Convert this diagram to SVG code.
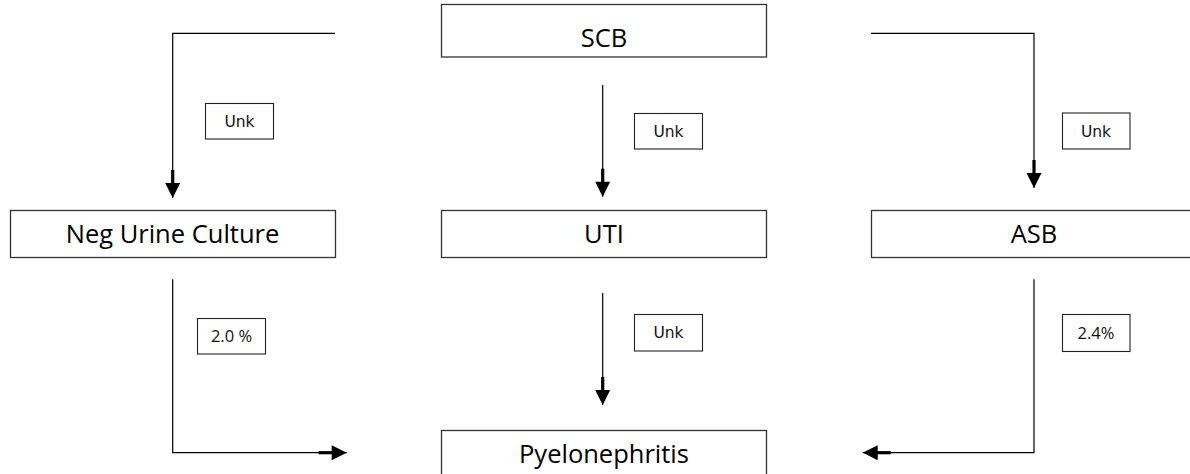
<svg xmlns="http://www.w3.org/2000/svg" width="1190" height="474" viewBox="0 0 1190 474">
<style>
.node{fill:#fff;stroke:#333;stroke-width:1.3}
.lbl{fill:#fff;stroke:#222;stroke-width:1.1}
.big{font-family:"Open Sans","Liberation Sans",sans-serif;font-size:25.5px;fill:#000;text-anchor:middle}
.unk{font-family:"DejaVu Sans","Liberation Sans",sans-serif;font-size:15.5px;fill:#111;text-anchor:middle}
.pct{font-family:"Open Sans","Liberation Sans",sans-serif;font-size:16.5px;fill:#111;text-anchor:middle}
.con{fill:none;stroke:#000;stroke-width:1.2}
</style>
<defs>
<marker id="arr" viewBox="-30 -10 30 20" refX="0" refY="0" markerWidth="30" markerHeight="20" markerUnits="userSpaceOnUse" orient="auto">
<rect x="-28" y="-1.6" width="14" height="3.2" fill="#000"/>
<path d="M-15,-7.5 L0,0 L-15,7.5 Z" fill="#000"/>
</marker>
</defs>
<rect width="1190" height="474" fill="#fff"/>
<g id="connectors">
<path class="con" d="M335,33.3 H172.7 V198" marker-end="url(#arr)"/>
<path class="con" d="M602.7,85 V196.7" marker-end="url(#arr)"/>
<path class="con" d="M871,33.3 H1034 V188" marker-end="url(#arr)"/>
<path class="con" d="M602.7,293 V405" marker-end="url(#arr)"/>
<path class="con" d="M172.7,279.3 V452.7 H346.7" marker-end="url(#arr)"/>
<path class="con" d="M1034,279.3 V452.7 H862.7" marker-end="url(#arr)"/>
</g>
<g id="scb"><rect class="node" x="441.5" y="4.5" width="325" height="52.5"/><text class="big" x="604" y="47">SCB</text></g>
<g id="neg"><rect class="node" x="10.5" y="210.5" width="325" height="47"/><text class="big" x="172.5" y="243">Neg Urine Culture</text></g>
<g id="uti"><rect class="node" x="441.5" y="210.5" width="325" height="47"/><text class="big" x="604" y="243">UTI</text></g>
<g id="asb"><rect class="node" x="871.5" y="210.5" width="326" height="47"/><text class="big" x="1034" y="243">ASB</text></g>
<g id="pyelo"><rect class="node" x="441.5" y="430.5" width="325" height="47"/><text class="big" x="604" y="463">Pyelonephritis</text></g>
<g id="l1"><rect class="lbl" x="205.5" y="103.5" width="68" height="35.5"/><text class="unk" x="239.5" y="127">Unk</text></g>
<g id="l2"><rect class="lbl" x="634.5" y="113.5" width="68" height="35.5"/><text class="unk" x="668.5" y="137">Unk</text></g>
<g id="l3"><rect class="lbl" x="1062.5" y="113" width="67.5" height="36"/><text class="unk" x="1096" y="137">Unk</text></g>
<g id="l4"><rect class="lbl" x="197.5" y="318.5" width="68" height="35.5"/><text class="pct" x="231.5" y="342">2.0 %</text></g>
<g id="l5"><rect class="lbl" x="634.5" y="314.5" width="68" height="36.5"/><text class="unk" x="668.5" y="338">Unk</text></g>
<g id="l6"><rect class="lbl" x="1062.5" y="314.5" width="67.5" height="37"/><text class="pct" x="1096" y="339">2.4%</text></g>
</svg>
